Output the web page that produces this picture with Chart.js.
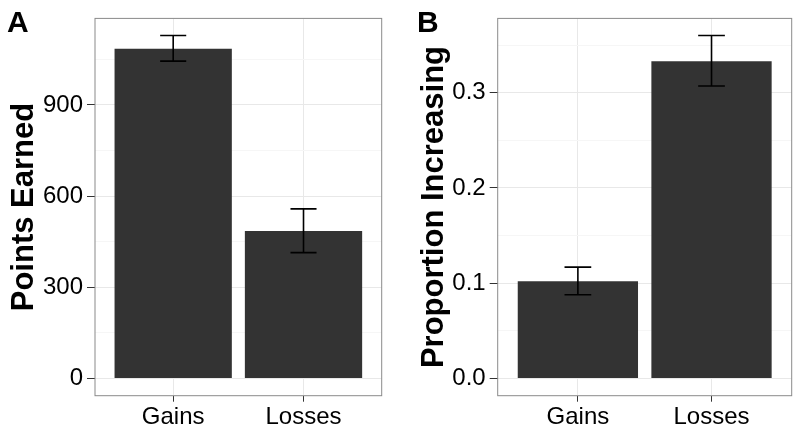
<!DOCTYPE html>
<html>
<head>
<meta charset="utf-8">
<title>Points earned and proportion increasing</title>
<script src="https://cdn.jsdelivr.net/npm/chart.js@4.4.0/dist/chart.umd.min.js"></script>
<style>
  body { margin: 0; background: #fff; }
  #wrap { position: relative; width: 800px; height: 434px; }
  .panel { position: absolute; top: 0; width: 400px; height: 434px; }
  .tag { position: absolute; top: 7px; font: bold 30px/30px "Liberation Sans", Arial, sans-serif; color: #000; }
</style>
</head>
<body>
<div id="wrap">
  <canvas id="chart-a" class="panel" width="400" height="434" style="left:0"></canvas>
  <canvas id="chart-b" class="panel" width="400" height="434" style="left:400px"></canvas>
  <div class="tag" style="left:7px">A</div>
  <div class="tag" style="left:417px">B</div>
</div>
<script>
// Datos
const categories = ["Gains", "Losses"];

const pointsMean = [1085, 485];
const pointsLow = [1044, 414];
const pointsHigh = [1128, 558];
const pointsTicks = [0, 300, 600, 900];
const pointsTickLabels = ["0", "300", "600", "900"];

const propMean = [0.102, 0.333];
const propLow = [0.088, 0.307];
const propHigh = [0.117, 0.36];
const propTicks = [0, 0.1, 0.2, 0.3];
const propTickLabels = ["0.0", "0.1", "0.2", "0.3"];

const FONT = '"Liberation Sans", Arial, sans-serif';
Chart.defaults.font.family = FONT;
Chart.defaults.color = "#000";

// Barras de error (ancho 0.2 como en ggplot)
const errorBars = {
  id: "errorBars",
  afterDatasetsDraw(chart, args, opts) {
    const { ctx } = chart;
    const x = chart.scales.x;
    const y = chart.scales.y;
    const half = opts.capWidth / 2;
    ctx.save();
    ctx.strokeStyle = "#000";
    ctx.lineWidth = 1.6;
    opts.low.forEach(function (lo, i) {
      const pos = i + 1;
      const px = x.getPixelForValue(pos);
      const left = x.getPixelForValue(pos - half);
      const right = x.getPixelForValue(pos + half);
      const yLo = y.getPixelForValue(lo);
      const yHi = y.getPixelForValue(opts.high[i]);
      ctx.beginPath();
      ctx.moveTo(px, yLo);
      ctx.lineTo(px, yHi);
      ctx.moveTo(left, yLo);
      ctx.lineTo(right, yLo);
      ctx.moveTo(left, yHi);
      ctx.lineTo(right, yHi);
      ctx.stroke();
    });
    ctx.restore();
  },
};

// Borde del panel (theme_bw)
const panelBorder = {
  id: "panelBorder",
  afterDraw(chart) {
    const { ctx, chartArea: a } = chart;
    ctx.save();
    ctx.strokeStyle = "#8a8a8a";
    ctx.lineWidth = 1;
    ctx.strokeRect(a.left, a.top, a.right - a.left, a.bottom - a.top);
    ctx.restore();
  },
};

function makePanel(canvasId, p) {
  // Limites como ggplot: expansion del 5%
  const top = Math.max.apply(null, p.high);
  const yMin = -0.05 * top;
  const yMax = top + 0.05 * top;

  const step = p.ticks[1] - p.ticks[0];
  const minors = [p.ticks[0] - step / 2]
    .concat(p.ticks.map((t) => t + step / 2))
    .filter((v) => v >= yMin && v <= yMax);
  const allTicks = p.ticks.concat(minors).sort((a, b) => a - b);
  const isMajor = (v) => p.ticks.indexOf(v) >= 0;

  const ctx = document.getElementById(canvasId).getContext("2d");
  return new Chart(ctx, {
    type: "bar",
    data: {
      datasets: [
        {
          data: categories.map((c, i) => ({ x: i + 1, y: p.mean[i] })),
          backgroundColor: "#333333",
          borderWidth: 0,
          barPercentage: 0.9,
          categoryPercentage: 1.0,
        },
      ],
    },
    options: {
      responsive: false,
      animation: false,
      layout: { padding: { top: 16, right: p.rightPad, bottom: 0, left: 0 } },
      plugins: {
        legend: { display: false },
        tooltip: { enabled: false },
        errorBars: { low: p.low, high: p.high, capWidth: 0.2 },
      },
      scales: {
        x: {
          type: "linear",
          min: 0.4,
          max: 2.6,
          offset: false,
          afterBuildTicks: (axis) => {
            axis.ticks = categories.map((c, i) => ({ value: i + 1 }));
          },
          afterFit: (scale) => {
            scale.height = 38.3;
          },
          ticks: {
            autoSkip: false,
            maxRotation: 0,
            padding: 1,
            font: { size: 24 },
            color: "#000",
            callback: (v) => categories[v - 1] || "",
          },
          grid: {
            offset: false,
            color: "#e8e8e8",
            tickColor: "#333",
            tickLength: 6,
          },
          border: { display: false },
        },
        y: {
          min: yMin,
          max: yMax,
          afterBuildTicks: (axis) => {
            axis.ticks = allTicks.map((v) => ({ value: v }));
          },
          afterFit: (scale) => {
            scale.width = p.axisWidth;
          },
          ticks: {
            autoSkip: false,
            padding: 4,
            font: { size: 24 },
            color: "#000",
            callback: (v) => {
              const k = p.ticks.indexOf(v);
              return k >= 0 ? p.tickLabels[k] : "";
            },
          },
          grid: {
            color: (c) => (isMajor(c.tick.value) ? "#e8e8e8" : "#f6f6f6"),
            tickColor: (c) => (isMajor(c.tick.value) ? "#333" : "rgba(0,0,0,0)"),
            tickLength: 8,
          },
          border: { display: false },
          title: {
            display: true,
            text: p.title,
            font: { size: 31, weight: "bold" },
            color: "#000",
            padding: { top: p.titlePad, bottom: 0 },
          },
        },
      },
    },
    plugins: [errorBars, panelBorder],
  });
}

window.onload = function () {
  makePanel("chart-a", {
    mean: pointsMean,
    low: pointsLow,
    high: pointsHigh,
    ticks: pointsTicks,
    tickLabels: pointsTickLabels,
    title: "Points Earned",
    axisWidth: 95,
    titlePad: 6.2,
    rightPad: 18.3,
  });
  makePanel("chart-b", {
    mean: propMean,
    low: propLow,
    high: propHigh,
    ticks: propTicks,
    tickLabels: propTickLabels,
    title: "Proportion Increasing",
    axisWidth: 97.7,
    titlePad: 16.2,
    rightPad: 8.3,
  });
};
</script>
</body>
</html>
